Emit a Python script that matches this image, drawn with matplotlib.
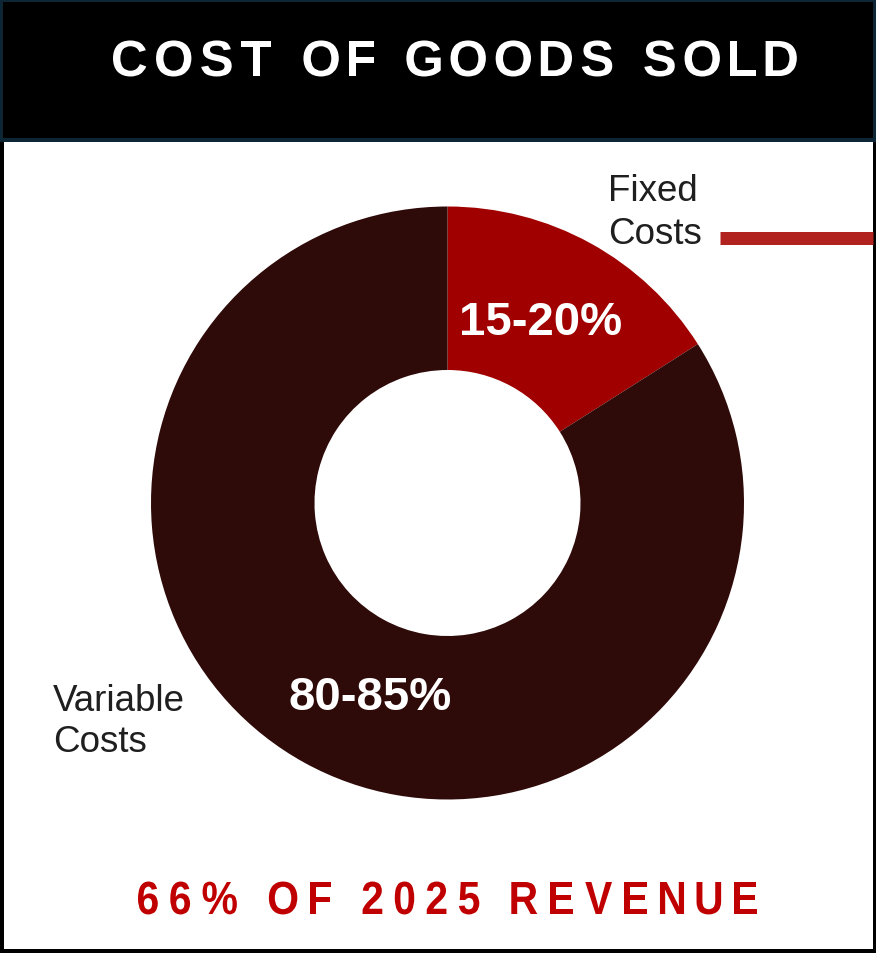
import matplotlib
matplotlib.use("Agg")
import matplotlib.pyplot as plt
from matplotlib.patches import Rectangle, PathPatch
from matplotlib.textpath import TextPath
from matplotlib.font_manager import FontProperties
from matplotlib.transforms import Affine2D

# ---- data ----
segment_names = ["Fixed\nCosts", "Variable\nCosts"]
segment_shares = [16, 84]
segment_labels = ["15-20%", "80-85%"]
title_text = "COST OF GOODS SOLD"
footer_text = "66% OF 2025 REVENUE"

# ---- style ----
W, H = 876, 954
FONT = "Liberation Sans"
NAVY = "#0d2636"
FIXED_RED = "#a00000"
VARIABLE_BROWN = "#2e0a09"
ACCENT_RED = "#b0231e"
FOOTER_RED = "#c00000"
LABEL_GREY = "#1f1f1f"

plt.rcParams["font.family"] = [FONT, "DejaVu Sans"]

fig = plt.figure(figsize=(W / 100, H / 100), dpi=100)
ax = fig.add_axes([0, 0, 1, 1])


def Y(py):
    """Convert a top-down pixel row into the axes' bottom-up coordinate."""
    return H - py


# body frame (black border) and header band
ax.add_patch(Rectangle((0, 0), W, H, facecolor="black", edgecolor="none", zorder=0))
ax.add_patch(Rectangle((4, 4), W - 7, H - 8, facecolor="white", edgecolor="none", zorder=0.5))
ax.add_patch(Rectangle((0, Y(143)), W, 143, facecolor=NAVY, edgecolor="none", zorder=1))
ax.add_patch(Rectangle((3, Y(139)), W - 6, 136, facecolor="black", edgecolor="none", zorder=1.1))

# donut
cx, cy, r_out, r_in = 447.5, Y(504), 296.5, 133
ax.pie(segment_shares, colors=[FIXED_RED, VARIABLE_BROWN], startangle=90,
       counterclock=False, radius=r_out, center=(cx, cy),
       wedgeprops=dict(width=r_out - r_in, edgecolor="none"), frame=True)

ax.set_xlim(0, W)
ax.set_ylim(0, H)
ax.set_aspect("auto")
ax.set_axis_off()

# value labels inside the ring
ax.text(541, Y(335), segment_labels[0], color="white", fontsize=34,
        fontweight="bold", ha="center", va="baseline", zorder=5)
ax.text(370, Y(710), segment_labels[1], color="white", fontsize=34,
        fontweight="bold", ha="center", va="baseline", zorder=5)


# category names
def two_line(x, base_y, text, pitch=43.5):
    for i, line in enumerate(text.split("\n")):
        ax.text(x, Y(base_y + i * pitch), line, color=LABEL_GREY, fontsize=26.5,
                ha="left", va="baseline", zorder=5)


two_line(608, 201, segment_names[0])
two_line(53, 711, segment_names[1], pitch=41)

# leader bar next to the fixed-cost label
ax.plot([720, 873], [Y(238.5), Y(238.5)], color=ACCENT_RED, lw=13 * 72 / 100,
        solid_capstyle="butt", zorder=4)

# letter-spaced headings, drawn glyph by glyph as outlines
bold = FontProperties(family=FONT, weight="bold")


def tracked(text, x0, base_y, cap_px, color, gap, word_gap, squeeze=1.0):
    em = cap_px / 0.688
    x = x0
    for ch in text:
        if ch == " ":
            x += word_gap - gap
            continue
        path = TextPath((0, 0), ch, size=em, prop=bold)
        ext = path.get_extents()
        tr = Affine2D().translate(-ext.x0, 0).scale(squeeze, 1).translate(x, Y(base_y))
        ax.add_patch(PathPatch(tr.transform_path(path), facecolor=color,
                               edgecolor="none", zorder=6))
        x += ext.width * squeeze + gap


tracked(title_text, 113, 77, 35, "white", gap=9.8, word_gap=32)
tracked(footer_text, 138, 915, 32, FOOTER_RED, gap=12.5, word_gap=32, squeeze=0.88)

fig.savefig("out.png", dpi=100)
